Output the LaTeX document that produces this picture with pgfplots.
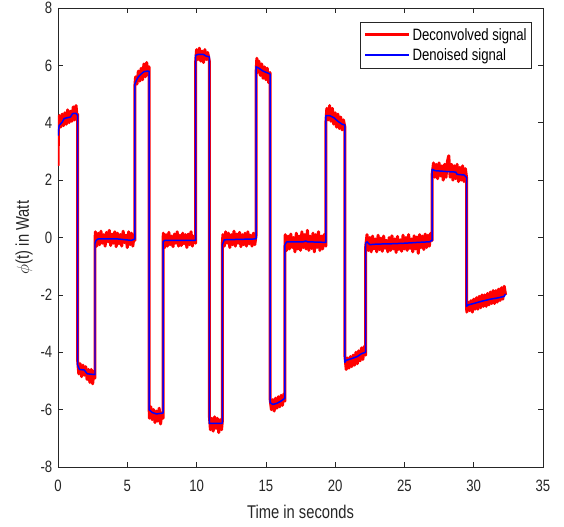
\documentclass[border=0pt]{standalone}
\usepackage{pgfplots}
\pgfplotsset{compat=1.18}
\usepackage{fontspec}
\setmainfont{Liberation Sans}[FakeStretch=0.8]
\definecolor{axgray}{rgb}{0.15,0.15,0.15}
\definecolor{mblue}{rgb}{0,0,1}
\definecolor{mred}{rgb}{1,0,0}
\begin{document}
\begin{tikzpicture}
\begin{axis}[
  name=ax,
  scale only axis,
  width=485bp, height=459bp,
  xmin=0, xmax=35, ymin=-8, ymax=8,
  xtick={0,5,...,35}, ytick={-8,-6,...,8},
  tick align=inside,
  major tick length=5bp,
  axis line style={axgray, line width=0.6pt},
  every tick/.style={axgray, line width=0.6pt},
  tick label style={font=\fontsize{16.5}{19}\selectfont, text=axgray},
  xticklabel style={inner sep=0pt, anchor=north, yshift=-13bp},
  yticklabel style={inner sep=0pt, anchor=east, xshift=-5.5bp},
  /pgf/number format/assume math mode=true,
  label style={font=\fontsize{18.5}{22}\selectfont, text=axgray},
  xlabel={Time in seconds},
  ylabel={$\phi$(t) in Watt},
  xlabel style={at={([yshift=-51bp]rel axis cs:0.5,0)}, anchor=base, inner sep=0pt},
  ylabel style={at={([xshift=-34bp]rel axis cs:0,0.5)}, anchor=center, inner sep=0pt},
  legend style={at={(0.977,0.9695)}, anchor=north east, draw=axgray,
    font=\fontsize{16.5}{19}\selectfont, inner xsep=3bp, inner ysep=4bp, row sep=3bp,
    cells={anchor=west}},
  legend image code/.code={\draw[#1] (0bp,0bp) -- (44bp,0bp);},
]
\addlegendimage{draw=mred, line width=3pt}
\addlegendentry{Deconvolved signal}
\addlegendimage{draw=mblue, line width=2pt}
\addlegendentry{Denoised signal}
\addplot[forget plot, mred, line width=3pt, line join=round] table {
t v
0 2.5
0.04 4.0
0.1 4.25
0.2 3.85
0.3 4.3
0.4 3.9
0.5 4.35
0.6 3.95
0.7 4.45
0.8 4.0
0.9 4.4
1.0 4.05
1.1 4.55
1.2 4.1
1.3 4.6
1.38 4.2
1.42 4.3
1.42 -4.3
1.5 -4.75
1.6 -4.4
1.7 -4.85
1.8 -4.45
1.9 -4.8
2.0 -4.5
2.1 -4.95
2.2 -4.6
2.3 -5.05
2.4 -4.6
2.5 -5.1
2.6 -4.65
2.67 -4.9
2.67 -0.1
2.7 0.2
2.8 -0.3
2.9 0.15
3.0 -0.25
3.1 0.22
3.2 -0.2
3.3 0.1
3.4 -0.3
3.5 0.18
3.6 -0.15
3.7 0.25
3.8 -0.28
3.9 0.12
4.0 -0.2
4.1 0.2
4.2 -0.32
4.3 0.15
4.4 -0.22
4.5 0.1
4.6 -0.3
4.7 0.22
4.8 -0.18
4.9 0.08
5.0 -0.35
5.1 0.2
5.2 -0.25
5.3 0.15
5.4 -0.3
5.5 0.1
5.55 -0.1
5.55 5.3
5.6 5.6
5.7 5.35
5.8 5.8
5.9 5.45
6.0 5.9
6.1 5.5
6.2 6.05
6.3 5.6
6.4 6.1
6.5 5.65
6.57 5.95
6.57 -5.85
6.6 -6.3
6.7 -5.9
6.8 -6.35
6.9 -6.0
7.0 -6.45
7.1 -6.05
7.2 -6.4
7.3 -5.95
7.4 -6.5
7.5 -6.1
7.58 -6.3
7.58 -0.2
7.6 0.15
7.7 -0.35
7.8 0.1
7.9 -0.3
8.0 0.18
8.1 -0.25
8.2 0.05
8.3 -0.32
8.4 0.12
8.5 -0.2
8.6 0.2
8.7 -0.3
8.8 0.08
8.9 -0.28
9.0 0.15
9.1 -0.22
9.2 0.1
9.3 -0.35
9.4 0.12
9.5 -0.25
9.6 0.2
9.7 -0.3
9.8 0.05
9.93 -0.2
9.93 6.1
10.0 6.55
10.1 6.2
10.2 6.6
10.3 6.15
10.4 6.5
10.5 6.1
10.6 6.55
10.7 6.2
10.8 6.45
10.92 6.15
10.92 -6.2
11.0 -6.7
11.1 -6.3
11.2 -6.75
11.3 -6.25
11.4 -6.65
11.5 -6.3
11.6 -6.8
11.7 -6.35
11.8 -6.7
11.86 -6.4
11.86 -0.25
11.9 0.1
12.0 -0.3
12.1 0.2
12.2 -0.2
12.3 0.15
12.4 -0.35
12.5 0.1
12.6 -0.25
12.7 0.22
12.8 -0.3
12.9 0.12
13.0 -0.2
13.1 0.18
13.2 -0.32
13.3 0.1
13.4 -0.25
13.5 0.15
13.6 -0.3
13.7 0.2
13.8 -0.22
13.9 0.08
14.0 -0.3
14.1 0.15
14.2 -0.25
14.29 0.05
14.29 5.7
14.35 6.25
14.4 5.75
14.5 6.15
14.6 5.65
14.7 6.05
14.8 5.55
14.9 5.95
15.0 5.5
15.1 5.9
15.2 5.4
15.3 5.75
15.3 -5.6
15.4 -6.0
15.5 -5.65
15.6 -6.05
15.7 -5.6
15.8 -5.95
15.9 -5.55
16.0 -5.9
16.1 -5.5
16.2 -5.85
16.3 -5.45
16.38 -5.7
16.38 -0.3
16.4 0.1
16.5 -0.45
16.6 0.05
16.7 -0.4
16.8 0.12
16.9 -0.35
17.0 0.0
17.1 -0.5
17.2 0.15
17.3 -0.4
17.4 0.05
17.5 -0.45
17.6 0.2
17.7 -0.35
17.8 0.1
17.9 -0.4
18.0 0.25
18.1 -0.45
18.2 0.05
18.3 -0.38
18.4 0.15
18.5 -0.5
18.6 0.1
18.7 -0.35
18.8 0.2
18.9 -0.45
19.0 0.05
19.1 -0.4
19.2 0.1
19.33 -0.3
19.33 4.0
19.4 4.5
19.5 4.1
19.6 4.6
19.7 4.05
19.8 4.5
19.9 3.95
20.0 4.35
20.1 3.85
20.2 4.3
20.3 3.8
20.4 4.2
20.5 3.75
20.6 4.1
20.7 3.85
20.7 -4.1
20.8 -4.6
20.9 -4.2
21.0 -4.55
21.1 -4.15
21.2 -4.5
21.3 -4.1
21.4 -4.45
21.5 -4.0
21.6 -4.4
21.7 -3.95
21.8 -4.3
21.9 -3.85
22.0 -4.25
22.1 -3.8
22.2 -4.1
22.2 -0.35
22.3 0.1
22.4 -0.45
22.5 0.0
22.6 -0.5
22.7 0.05
22.8 -0.4
22.9 -0.05
23.0 -0.5
23.1 0.08
23.2 -0.42
23.3 -0.02
23.4 -0.48
23.5 0.05
23.6 -0.38
23.7 -0.1
23.8 -0.5
23.9 0.0
24.0 -0.45
24.1 0.06
24.2 -0.4
24.3 -0.05
24.4 -0.52
24.5 0.04
24.6 -0.42
24.7 -0.08
24.8 -0.48
24.9 0.08
25.0 -0.4
25.1 0.0
25.2 -0.45
25.3 0.1
25.4 -0.38
25.5 -0.05
25.6 -0.5
25.7 0.06
25.8 -0.4
25.9 0.02
26.0 -0.55
26.1 0.1
26.2 -0.35
26.3 0.05
26.4 -0.42
26.5 0.12
26.6 -0.35
26.7 0.08
26.8 -0.3
26.9 0.15
27.0 -0.1
27.0 2.2
27.1 2.6
27.2 2.1
27.3 2.55
27.4 2.05
27.5 2.6
27.6 2.15
27.7 2.5
27.8 2.0
27.9 2.55
28.0 2.1
28.1 2.65
28.2 2.85
28.3 2.1
28.4 2.55
28.5 2.0
28.6 2.5
28.7 2.05
28.8 2.55
28.9 1.95
29.0 2.45
29.1 2.0
29.2 2.5
29.3 1.95
29.4 2.4
29.48 2.1
29.48 -2.2
29.5 -2.6
29.6 -2.25
29.7 -2.55
29.8 -2.2
29.9 -2.6
30.0 -2.15
30.1 -2.5
30.2 -2.1
30.3 -2.5
30.4 -2.05
30.5 -2.45
30.6 -2.0
30.7 -2.4
30.8 -2.0
30.9 -2.4
31.0 -1.95
31.1 -2.35
31.2 -1.9
31.3 -2.3
31.4 -1.85
31.5 -2.3
31.6 -1.85
31.7 -2.25
31.8 -1.8
31.9 -2.2
32.0 -1.75
32.1 -2.15
32.2 -1.7
32.3 -2.0
};
\addplot[forget plot, mblue, line width=1.5pt, line join=round] coordinates {
(0,3.55)(0.08,3.9)(0.3,4.02)(0.45,4.15)(0.9,4.2)(1.05,4.32)(1.3,4.33)(1.42,4.25)
(1.42,-4.45)(1.55,-4.6)(1.9,-4.62)(2.1,-4.75)(2.67,-4.78)
(2.67,-0.2)(2.75,-0.1)(2.9,-0.05)(4.3,-0.05)(4.9,-0.08)(5.3,-0.1)(5.55,-0.05)
(5.55,5.35)(5.68,5.5)(5.8,5.6)(6.0,5.7)(6.2,5.78)(6.45,5.8)(6.57,5.8)
(6.57,-6.0)(6.8,-6.1)(7.1,-6.15)(7.58,-6.12)
(7.58,-0.15)(7.7,-0.1)(9.93,-0.1)
(9.93,6.35)(10.1,6.38)(10.5,6.38)(10.7,6.32)(10.92,6.3)
(10.92,-6.48)(11.86,-6.48)
(11.86,-0.25)(12.0,-0.08)(14.29,-0.05)
(14.29,5.95)(14.5,5.9)(14.8,5.8)(15.3,5.7)
(15.3,-5.75)(15.5,-5.82)(15.8,-5.78)(16.1,-5.7)(16.38,-5.6)
(16.38,-0.25)(16.5,-0.15)(17.7,-0.15)(17.9,-0.12)(18.0,-0.15)(19.33,-0.17)
(19.33,4.25)(19.6,4.25)(19.9,4.18)(20.2,4.05)(20.5,3.95)(20.7,3.92)
(20.7,-4.35)(20.8,-4.28)(21.2,-4.22)(21.6,-4.15)(21.9,-4.05)(22.2,-4.0)
(22.2,-0.2)(22.3,-0.15)(22.5,-0.25)(23,-0.23)(24,-0.22)(25,-0.2)(26,-0.17)(26.8,-0.15)(27.0,-0.1)
(27.0,2.38)(27.2,2.33)(28,2.3)(28.7,2.28)(28.8,2.2)(29.3,2.18)(29.48,2.1)
(29.48,-2.4)(29.6,-2.35)(30,-2.3)(30.6,-2.22)(31.2,-2.15)(31.8,-2.1)(32.2,-2.05)(32.3,-1.97)
};
\end{axis}
\pgfresetboundingbox
\path[use as bounding box] ([xshift=-58bp,yshift=-60bp]ax.south west) rectangle ([xshift=21bp,yshift=8bp]ax.north east);
\end{tikzpicture}
\end{document}
